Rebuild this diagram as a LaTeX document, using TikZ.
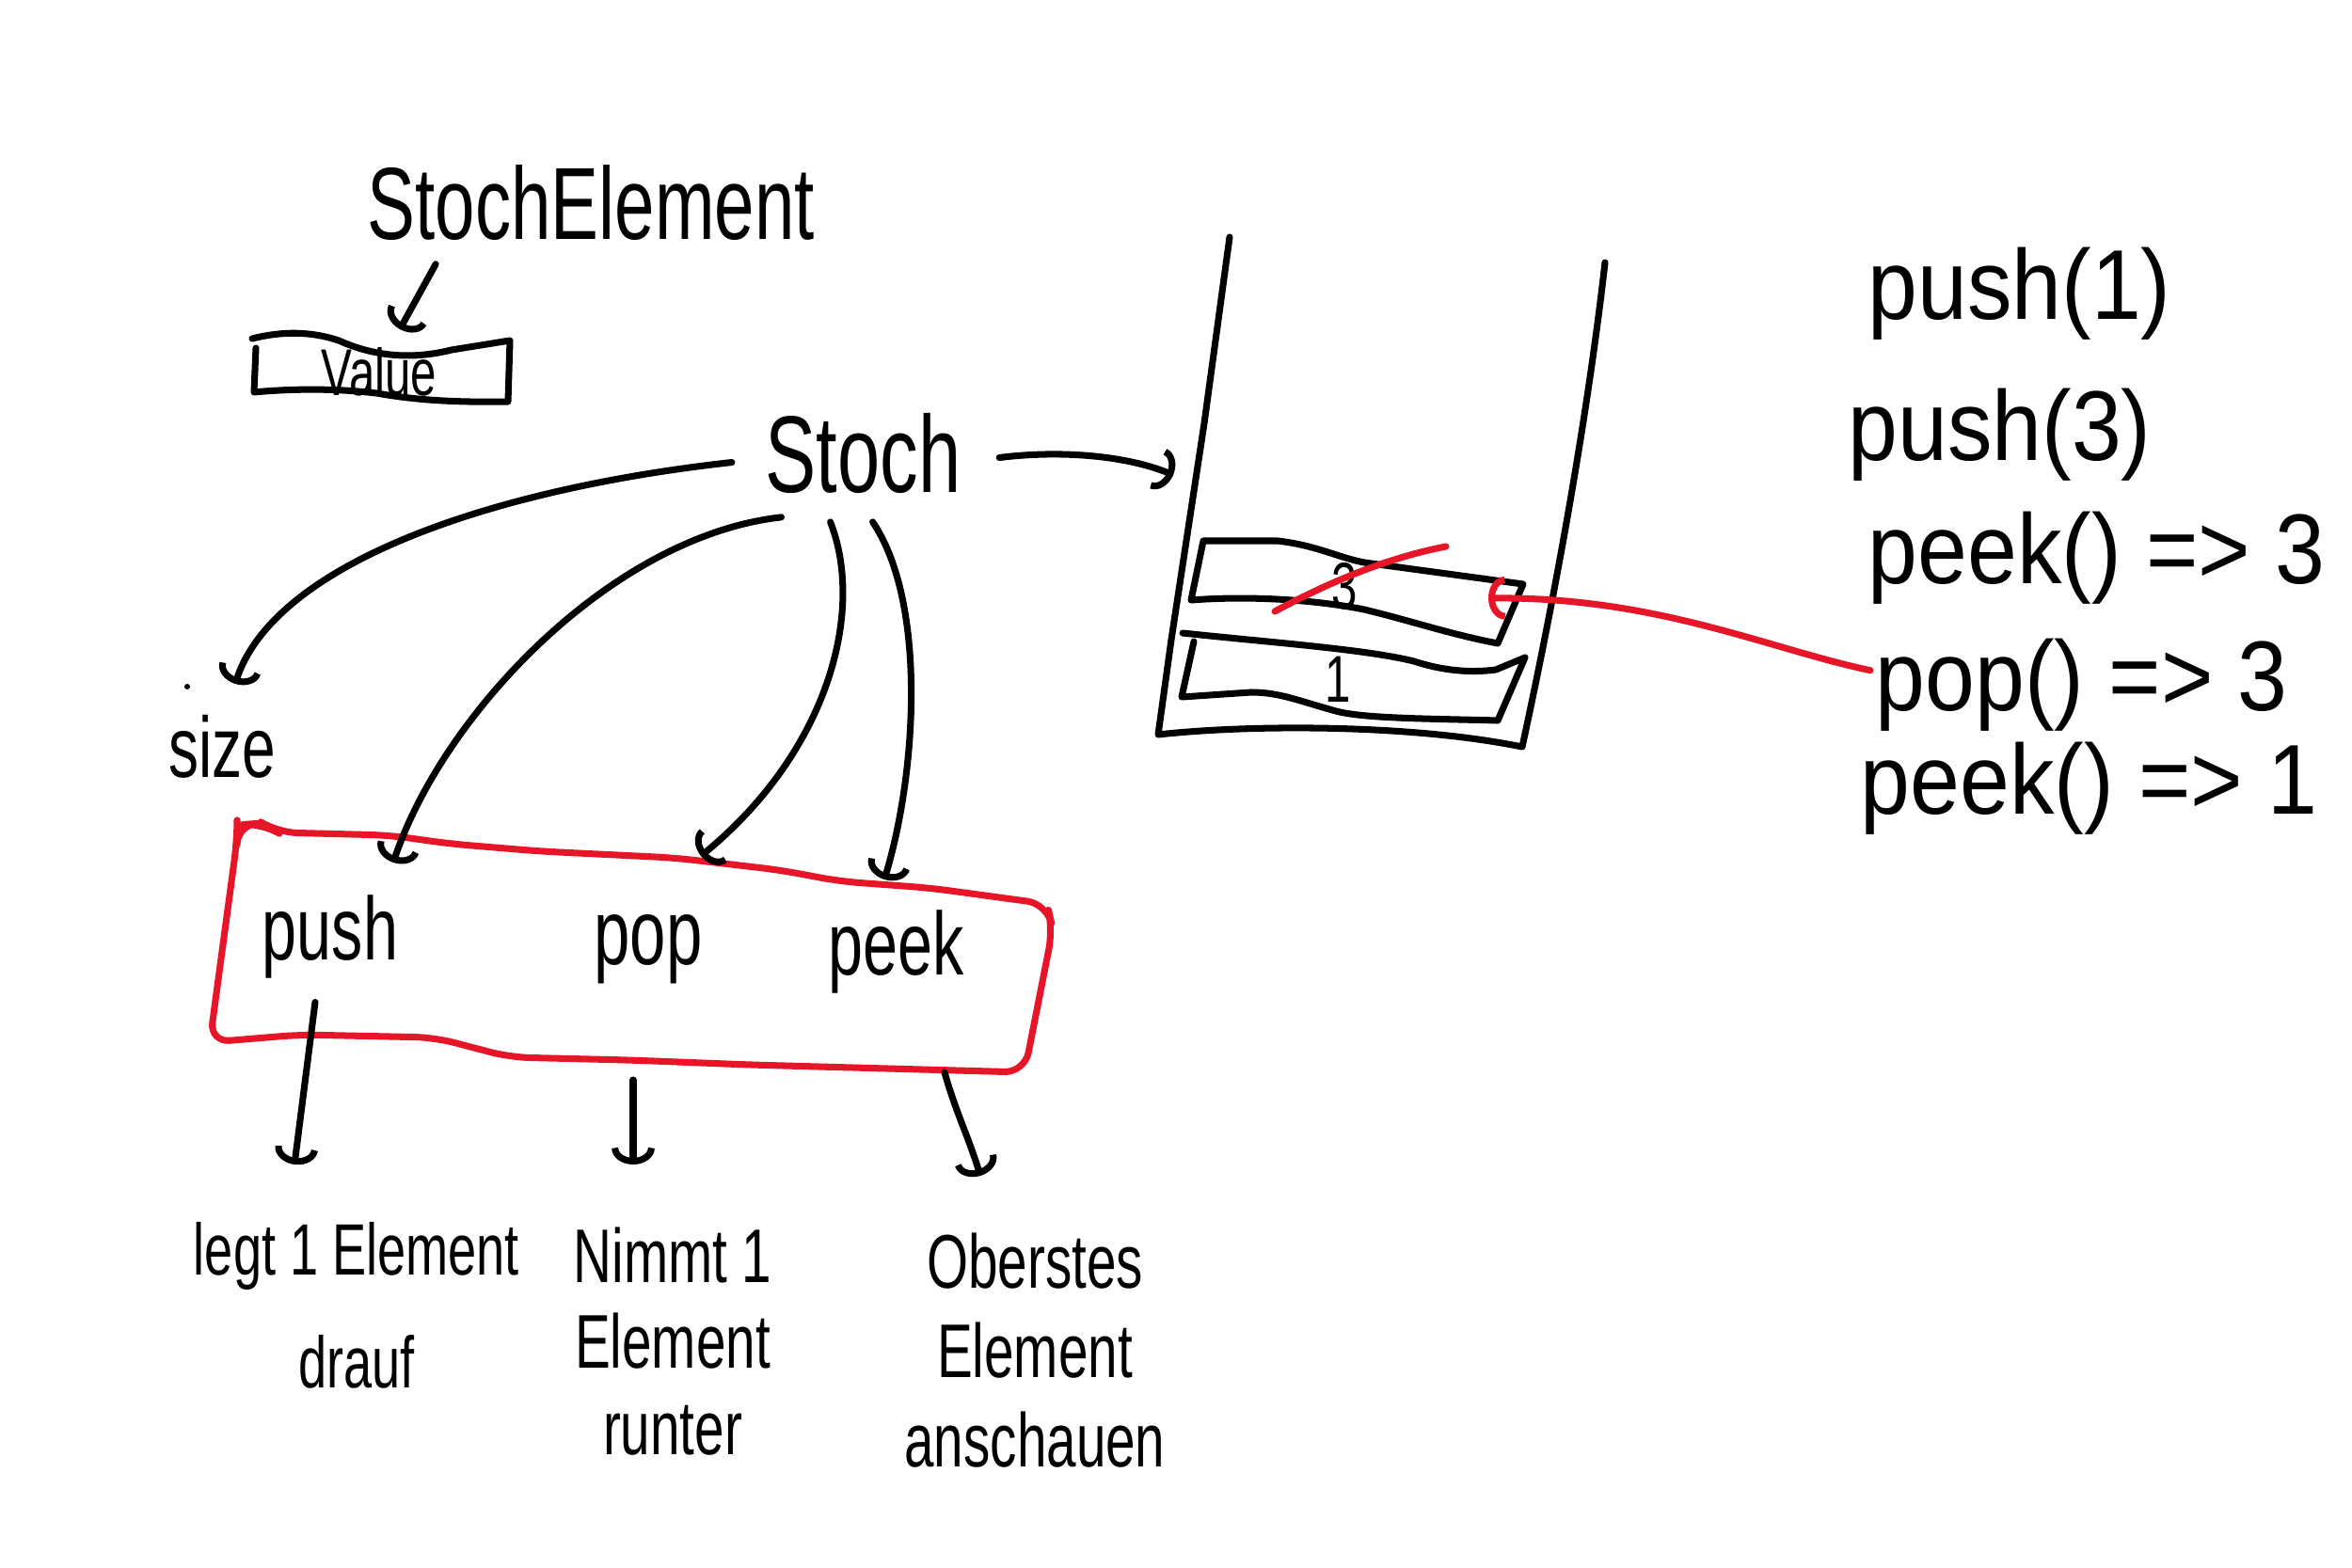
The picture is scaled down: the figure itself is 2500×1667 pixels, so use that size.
\documentclass[tikz,border=0pt]{standalone}
\usepackage{fontspec}
\newfontfamily\hand[FakeStretch=0.7]{Liberation Sans}
\newfontfamily\handw[FakeStretch=0.9]{Liberation Sans}
\newcommand\hf[2]{\hand\fontsize{#1}{#2}\selectfont}
\newcommand\hw[2]{\handw\fontsize{#1}{#2}\selectfont}
\usetikzlibrary{arrows.meta}
\definecolor{inkred}{RGB}{230,22,40}
\begin{document}
\begin{tikzpicture}[x=0.01cm,y=-0.01cm,
  ink/.style={line width=2pt,line cap=round,line join=round,draw=black},
  redink/.style={line width=2pt,line cap=round,line join=round,draw=inkred},
  hookarrow/.style={-{Arc Barb[length=5pt,width=13pt,line width=2pt]}},
  lbl/.style={inner sep=0pt,text=black}]
\useasboundingbox (0,0) rectangle (2500,1667);
\fill[white] (0,0) rectangle (2500,1667);

% ---- texts ----
\node[lbl,anchor=base west,font=\hf{31}{37}] (se) at (390,255) {StochElement};
\node[lbl,anchor=base,font=\hf{20}{24}] (value) at (403,420) {Value};
\node[lbl,anchor=base west,font=\hf{33}{40}] (stoch) at (813,523) {Stoch};
\node[lbl,anchor=base,font=\hf{26}{31}] (size) at (236,826) {size};
\node[lbl,anchor=base,font=\hf{27}{32}] (push) at (351,1020) {push};
\node[lbl,anchor=base,font=\hf{28}{33}] (pop) at (689,1025) {pop};
\node[lbl,anchor=base,font=\hf{27}{32}] (peek) at (953,1036) {peek};
\node[lbl,anchor=north,align=center,font=\hf{22}{34}] (legt) at (379,1299) {legt 1 Element\\drauf};
\node[lbl,anchor=north,align=center,font=\hf{23}{26}] (nimmt) at (715,1304) {Nimmt 1\\Element\\runter};
\node[lbl,anchor=north,align=center,font=\hf{23}{27}] (oberstes) at (1100,1310) {Oberstes\\Element\\anschauen};
\node[lbl,anchor=base west,font=\hw{30}{36}] (r1) at (1985,340) {push(1)};
\node[lbl,anchor=base west,font=\hw{30}{36}] (r2) at (1964,490) {push(3)};
\node[lbl,anchor=base west,font=\hw{30}{36}] (r3) at (1985,620) {peek() => 3};
\node[lbl,anchor=base west,font=\hw{30}{36}] (r4) at (1993,755) {pop() => 3};
\node[lbl,anchor=base west,font=\hw{30}{36}] (r5) at (1977,865) {peek() => 1};
\node[lbl,font=\hf{20}{24}] (n3) at (1429,623) {3};
\node[lbl,font=\hf{20}{24}] (n1) at (1422,722) {1};
\fill (199,730) circle (3);

% ---- Value box ----
\draw[ink] (268,360) .. controls (300,352) and (330,352) .. (360,362)
  .. controls (400,380) and (440,382) .. (480,372) -- (542,362) -- (540,427)
  .. controls (480,428) and (440,425) .. (400,418) .. controls (350,412) and (300,414) .. (270,417) -- (272,370);

% ---- stack container ----
\draw[ink] (1307,252) -- (1280,450) -- (1245,680) -- (1231,781)
  .. controls (1330,770) and (1500,770) .. (1618,794)
  .. controls (1660,600) and (1690,420) .. (1706,279);
% element 3
\draw[ink] (1279,575) -- (1358,575) .. controls (1400,580) and (1420,592) .. (1450,598)
  -- (1619,621) -- (1592,684) .. controls (1540,674) and (1500,660) .. (1450,648)
  .. controls (1400,638) and (1330,633) .. (1266,638) -- cycle;
% element 1
\draw[ink] (1257,673) .. controls (1350,683) and (1450,690) .. (1503,703)
  .. controls (1530,712) and (1560,716) .. (1590,712) -- (1621,699) -- (1592,766)
  .. controls (1520,764) and (1450,764) .. (1420,756)
  .. controls (1380,745) and (1360,736) .. (1330,736) -- (1256,741) -- (1269,682);

% ---- red box ----
\draw[redink,rounded corners=6pt] (252,877) -- (279,875) -- (295,885) -- (414,888) -- (478,897)
  -- (574,905) -- (717,912) -- (829,925) -- (893,937) -- (988,944) -- (1113,961)
  -- (1119,988) -- (1089,1140) -- (797,1132) -- (669,1127) -- (542,1124) -- (462,1103)
  -- (319,1100) -- (223,1108) -- (252,893) -- cycle;

% ---- red marks ----
\draw[redink] (1355,650) .. controls (1420,615) and (1480,592) .. (1537,581);
\coordinate (el3hook) at (1582,636);
\draw[redink,hookarrow] ([xshift=-0.05cm,yshift=0.15cm]r4.west) .. controls (1880,690) and (1760,634) .. (el3hook);

% ---- connectors ----
\coordinate (valTop) at (425,350);
\draw[ink,hookarrow] ([xshift=-1.65cm,yshift=-0.24cm]se.south) -- (valTop);
\coordinate (stackIn) at (1247,505);
\draw[ink,hookarrow] ([xshift=0.4cm,yshift=-0.05cm]stoch.east) .. controls (1130,478) and (1200,485) .. (stackIn);
\coordinate (sizeTop) at (250,727);
\draw[ink,hookarrow] ([xshift=-0.35cm,yshift=-0.1cm]stoch.west) .. controls (520,520) and (290,600) .. (sizeTop);
\coordinate (pushTop) at (418,917);
\draw[ink,hookarrow] ([xshift=-0.87cm,yshift=-0.25cm]stoch.south) .. controls (650,570) and (470,760) .. (pushTop);
\coordinate (popTop) at (745,910);
\draw[ink,hookarrow] ([xshift=-0.35cm,yshift=-0.3cm]stoch.south) .. controls (920,650) and (880,800) .. (popTop);
\coordinate (peekTop) at (940,935);
\draw[ink,hookarrow] ([xshift=0.1cm,yshift=-0.3cm]stoch.south) .. controls (985,640) and (975,820) .. (peekTop);

\coordinate (legtTop) at (313,1238);
\draw[ink,hookarrow] ([xshift=-0.16cm,yshift=-0.25cm]push.south) -- (legtTop);
\coordinate (nimmtTop) at (673,1238);
\draw[ink,hookarrow] (673,1148) -- (nimmtTop);
\coordinate (oberTop) at (1042,1250);
\draw[ink,hookarrow] (1004,1140) .. controls (1015,1180) and (1030,1210) .. (oberTop);
\end{tikzpicture}
\end{document}
